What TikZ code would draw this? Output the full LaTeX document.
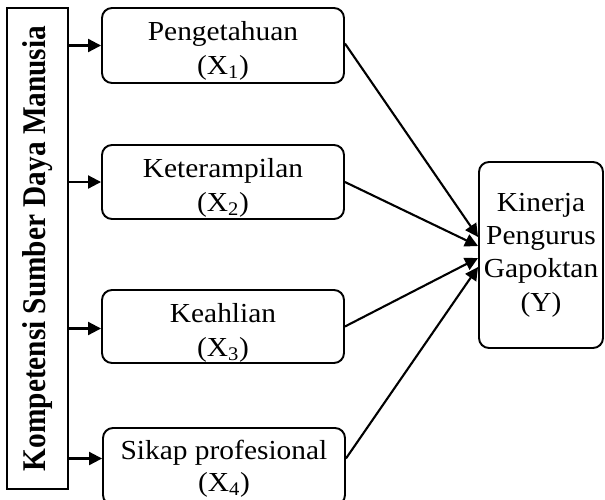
\documentclass[tikz,border=0pt]{standalone}
\usepackage{fontspec}
\setmainfont{Liberation Serif}[FakeStretch=1.07]
\newfontfamily\vertfont{Liberation Serif}
\usetikzlibrary{arrows.meta}
\begin{document}
\begin{tikzpicture}[x=1pt,y=-1pt,
  box/.style={draw, line width=1.9pt, rounded corners=10pt, inner sep=0pt},
  xbox/.style={box, minimum width=242pt},
  txt/.style={inner sep=0pt, anchor=base, font=\fontsize{27.5}{33}\selectfont},
  arr/.style={line width=2.1pt, -{Triangle[length=13pt,width=13pt]}}]
\useasboundingbox (0,0) rectangle (605,499);
% source box
\node[draw, line width=1.9pt, inner sep=0pt, minimum width=61pt, minimum height=481pt] (src) at (37.5,248.5)
  {\rotatebox{90}{\scalebox{1}[1.13]{\vertfont\bfseries\fontsize{29.3}{30}\selectfont Kompetensi Sumber Daya Manusia}}};
% X boxes
\node[xbox, minimum height=75pt] (x1) at (223,45.5) {};
\node[xbox, minimum height=74pt] (x2) at (223,182) {};
\node[xbox, minimum height=73pt] (x3) at (223,326.5) {};
\node[xbox, minimum height=77pt] (x4) at (224,466.5) {};
% Y box
\node[box, minimum width=124pt, minimum height=186pt] (y) at (541,255) {};
% texts
\node[txt] (x1a) at ([yshift=-33pt]x1.north) {Pengetahuan};
\node[txt] (x1b) at ([yshift=-67pt]x1.north) {(X\textsubscript{1})};
\node[txt] (x2a) at ([yshift=-33pt]x2.north) {Keterampilan};
\node[txt] (x2b) at ([yshift=-67pt]x2.north) {(X\textsubscript{2})};
\node[txt] (x3a) at ([yshift=-33pt]x3.north) {Keahlian};
\node[txt] (x3b) at ([yshift=-67pt]x3.north) {(X\textsubscript{3})};
\node[txt] (x4a) at ([yshift=-32pt]x4.north) {Sikap profesional};
\node[txt] (x4b) at ([yshift=-64pt]x4.north) {(X\textsubscript{4})};
\node[txt] (ya) at ([yshift=-50pt]y.north) {Kinerja};
\node[txt] (yb) at ([yshift=-83pt]y.north) {Pengurus};
\node[txt] (yc) at ([yshift=-116pt]y.north) {Gapoktan};
\node[txt] (yd) at ([yshift=-150pt]y.north) {(Y)};
% arrows from source
\draw[arr] (src.east |- x1.west) -- (x1.west);
\draw[arr] (src.east |- x2.west) -- (x2.west);
\draw[arr] ([yshift=-2pt]src.east |- x3.west) -- ([yshift=-2pt]x3.west);
\draw[arr] ([yshift=8pt]src.east |- x4.west) -- ([yshift=8pt]x4.west);
% arrows to Y
\draw[arr] ([yshift=2pt]x1.east) -- ([yshift=18pt]y.west);
\draw[arr] (x2.east) -- ([yshift=9pt]y.west);
\draw[arr] (x3.east) -- ([yshift=-3pt]y.west);
\draw[arr] ([yshift=8pt]x4.east) -- ([yshift=-12pt]y.west);
\end{tikzpicture}
\end{document}
